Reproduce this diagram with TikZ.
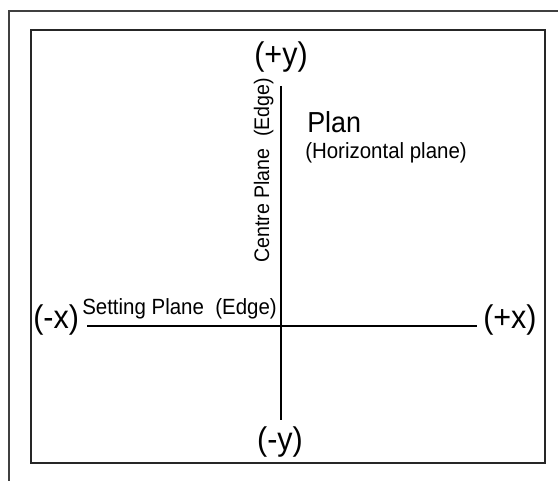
\documentclass[tikz,border=0pt]{standalone}
\usepackage{fontspec}
\setmainfont{Liberation Sans}
\newfontfamily\condfont[FakeStretch=0.93]{Liberation Sans}
\begin{document}
\begin{tikzpicture}[x=0.75pt,y=-0.75pt,
  frame/.style={line width=1.5pt,draw=black!85},
  axis/.style={line width=0.9pt,draw=black},
  biglbl/.style={font=\condfont\fontsize{24.6}{28}\selectfont,inner sep=0pt},
  titlelbl/.style={font=\condfont\fontsize{21.7}{25}\selectfont,inner sep=0pt},
  smalllbl/.style={font=\condfont\fontsize{16.5}{19}\selectfont,inner sep=0pt},
  sidelbl/.style={font=\condfont\fontsize{15.8}{19}\selectfont,inner sep=0pt}]
\useasboundingbox (0,0) rectangle (558,481);
% outer partial frame
\coordinate (otr) at (558,10.7);
\coordinate (otl) at (8.7,10.7);
\coordinate (obl) at (8.7,481);
\draw[frame,draw=black!75] (otr) -- (otl) -- (obl);
% inner frame
\coordinate (itl) at (31,30);
\coordinate (ibr) at (545.3,463.3);
\draw[frame] (itl) rectangle (ibr);
% axes
\coordinate (ytop) at (281,86);
\coordinate (ybot) at (281,420);
\coordinate (xl) at (87,326);
\coordinate (xr) at (477,326);
\draw[axis] (ytop) -- (ybot);
\draw[axis] (xl) -- (xr);
% labels
\node[biglbl,anchor=base] (py) at (281,65.5) {(+y)};
\node[biglbl,anchor=base] (my) at (280,451) {(-y)};
\node[biglbl,anchor=base west] (mx) at (33,329) {(-x)};
\node[biglbl,anchor=base west] (pxl) at (483,329) {(+x)};
\node[titlelbl,anchor=base west] (plan) at (307,133) {Plan};
\node[smalllbl,anchor=base west] (hp) at (305,158.5) {(Horizontal plane)};
\node[smalllbl,anchor=base west] (sp) at (82,315) {Setting Plane\ \ (Edge)};
\node[sidelbl,anchor=base west,rotate=90] (cp) at (269,263) {Centre Plane\hspace{0.3em} (Edge)};
\end{tikzpicture}
\end{document}
